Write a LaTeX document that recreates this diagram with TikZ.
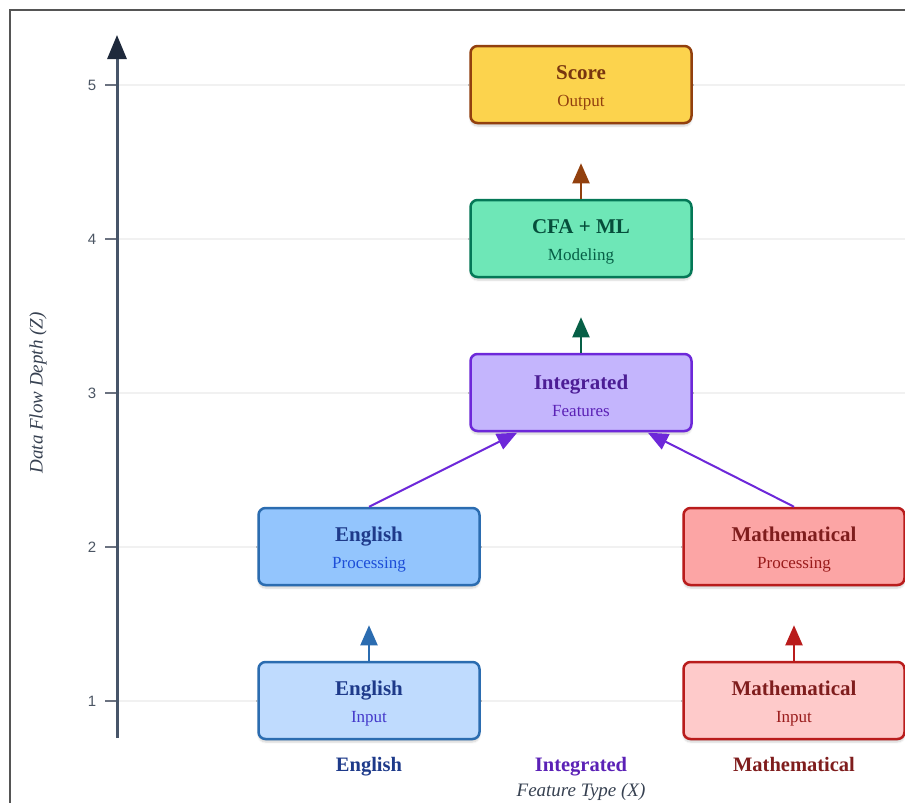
\documentclass[tikz,border=0pt]{standalone}
\usepackage{fontspec}
\setmainfont{Liberation Serif}
\newfontfamily\ticksans{Liberation Sans}
\usetikzlibrary{arrows.meta,shadows.blur}
\definecolor{scoreF}{HTML}{FCD34D}\definecolor{scoreD}{HTML}{92400E}\definecolor{scoreT}{HTML}{78350F}
\definecolor{cfaF}{HTML}{6EE7B7}\definecolor{cfaD}{HTML}{047857}\definecolor{cfaT}{HTML}{064E3B}\definecolor{cfaS}{HTML}{065F46}
\definecolor{intF}{HTML}{C4B5FD}\definecolor{intD}{HTML}{6D28D9}\definecolor{intT}{HTML}{4C1D95}\definecolor{intS}{HTML}{5B21B6}
\definecolor{engpF}{HTML}{93C5FD}\definecolor{engiF}{HTML}{BFDBFE}\definecolor{engD}{HTML}{2B6CB0}\definecolor{engT}{HTML}{1E3A8A}\definecolor{engS}{HTML}{1D4ED8}\definecolor{engI}{HTML}{4338CA}
\definecolor{mathpF}{HTML}{FCA5A5}\definecolor{mathiF}{HTML}{FECACA}\definecolor{mathD}{HTML}{B91C1C}\definecolor{mathT}{HTML}{7F1D1D}\definecolor{mathS}{HTML}{991B1B}
\definecolor{axisC}{HTML}{475569}\definecolor{axisH}{HTML}{1E293B}\definecolor{tickC}{HTML}{6B7280}\definecolor{tickT}{HTML}{4B5563}
\definecolor{gridC}{HTML}{F1F1F1}\definecolor{frameC}{HTML}{555555}\definecolor{labC}{HTML}{374151}
\newcommand{\ttl}[2]{\rule{0pt}{21pt}\textcolor{#1}{\fontsize{21}{26}\selectfont\bfseries #2}}
\newcommand{\sbt}[2]{\textcolor{#1}{\fontsize{17}{26}\selectfont #2}}
\tikzset{
  box/.style={draw, line width=2.5pt, rounded corners=7pt, minimum width=221pt, minimum height=77pt,
    align=center, inner sep=0pt, font=\fontsize{17}{27}\selectfont,
    blur shadow={shadow xshift=0pt, shadow yshift=-3pt, shadow opacity=18, shadow blur steps=6}},
  flow/.style={line width=2pt, -{Triangle[length=20pt,width=17pt]}},
  tick/.style={tickC, line width=2pt},
  grid/.style={gridC, line width=2pt},
  ticklab/.style={tickT, font=\ticksans\fontsize{15}{17}\selectfont, anchor=center},
  catlab/.style={font=\fontsize{20.5}{24}\selectfont\bfseries, anchor=base},
  axlab/.style={labC, font=\fontsize{19}{22}\selectfont\itshape}
}
\begin{document}
\begin{tikzpicture}[x=1pt,y=-1pt]
\useasboundingbox (0,0) rectangle (905,803);
% frame
\draw[frameC, line width=1.5pt] (10,803) -- (10,10) -- (905,10);
% grid lines and ticks
\foreach \v/\y in {5/85,4/239,3/393,2/547,1/701}{
  \draw[grid] (117,\y) -- (905,\y);
  \draw[tick] (105,\y) -- (117,\y);
  \node[ticklab] (t\v) at (92,\y) {\v};
}
% axis
\coordinate (axbot) at (117,738);
\coordinate (axtop) at (117,35);
\draw[axisC, line width=3pt, -{Triangle[length=24pt,width=19pt,fill=axisH,color=axisH]}] (axbot) -- (axtop);
\node[axlab, rotate=90, anchor=center] (ylab) at (38,393) {Data Flow Depth (Z)};
% boxes
\node[box, fill=scoreF, draw=scoreD] (score) at (581,84.5) {\ttl{scoreT}{Score}\\\sbt{scoreD}{Output}};
\node[box, fill=cfaF, draw=cfaD] (cfa) at (581,238.5) {\ttl{cfaT}{CFA + ML}\\\sbt{cfaS}{Modeling}};
\node[box, fill=intF, draw=intD] (integ) at (581,392.5) {\ttl{intT}{Integrated}\\\sbt{intS}{Features}};
\node[box, fill=engpF, draw=engD] (engp) at (369,546.5) {\ttl{engT}{English}\\\sbt{engS}{Processing}};
\node[box, fill=mathpF, draw=mathD] (mathp) at (794,546.5) {\ttl{mathT}{Mathematical}\\\sbt{mathS}{Processing}};
\node[box, fill=engiF, draw=engD] (engi) at (369,700.5) {\ttl{engT}{English}\\\sbt{engI}{Input}};
\node[box, fill=mathiF, draw=mathD] (mathi) at (794,700.5) {\ttl{mathT}{Mathematical}\\\sbt{mathS}{Input}};
% connectors
\draw[flow, scoreD, shorten >=39pt] (cfa.north) -- (score.south);
\draw[flow, cfaS, shorten >=39pt] (integ.north) -- (cfa.south);
\draw[flow, engD, shorten >=39pt] (engi.north) -- (engp.south);
\draw[flow, mathD, shorten >=39pt] (mathi.north) -- (mathp.south);
\draw[flow, intD, shorten >=1pt] (engp.north) -- ([xshift=-63pt]integ.south);
\draw[flow, intD, shorten >=1pt] (mathp.north) -- ([xshift=66pt]integ.south);
% category labels
\node[catlab, engT] (cEng) at (369,771) {English};
\node[catlab, intS] (cInt) at (581,771) {Integrated};
\node[catlab, mathT] (cMath) at (794,771) {Mathematical};
\node[axlab, anchor=base] (xlab) at (581,796) {Feature Type (X)};
\end{tikzpicture}
\end{document}
